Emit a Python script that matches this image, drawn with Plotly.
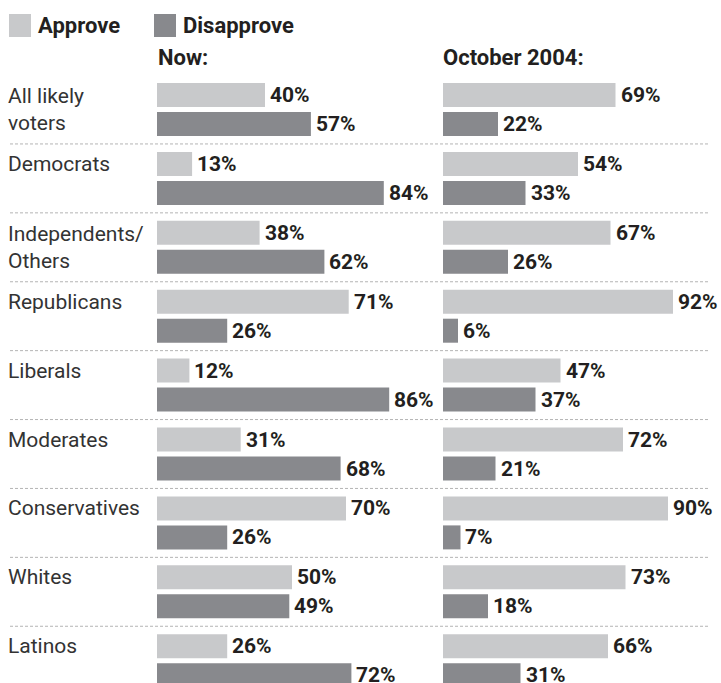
import plotly.graph_objects as go

# Poll results: approval by group, now vs. October 2004
groups = ["All likely<br>voters", "Democrats", "Independents/<br>Others", "Republicans",
          "Liberals", "Moderates", "Conservatives", "Whites", "Latinos"]
now_approve = [40, 13, 38, 71, 12, 31, 70, 50, 26]
now_disapprove = [57, 84, 62, 26, 86, 68, 26, 49, 72]
oct_approve = [69, 54, 67, 92, 47, 72, 90, 73, 66]
oct_disapprove = [22, 33, 26, 6, 37, 21, 7, 18, 31]

W, H = 721, 683
PITCH = 68.9          # px per group
FIRST_CENTER = 109.5  # px, centre of the first group
LIGHT = "#c8c9cb"
DARK = "#88898d"
INK = "#231f20"
FONT = "Roboto"

def px_x(p):
    return p / W

def px_y(p):
    return 1 - p / H

y_top = (0 - FIRST_CENTER) / PITCH
y_bot = (H - FIRST_CENTER) / PITCH
OFF = 14.5 / PITCH
BAR_W = 24 / PITCH

idx = list(range(len(groups)))
fig = go.Figure()

panels = [("x", now_approve, now_disapprove), ("x2", oct_approve, oct_disapprove)]
for xa, appr, dis in panels:
    fig.add_trace(go.Bar(x=appr, y=[i - OFF for i in idx], orientation="h", width=BAR_W,
                         marker=dict(color=LIGHT, line=dict(width=0)), xaxis=xa, yaxis="y",
                         name="Approve", showlegend=False))
    fig.add_trace(go.Bar(x=dis, y=[i + OFF for i in idx], orientation="h", width=BAR_W,
                         marker=dict(color=DARK, line=dict(width=0)), xaxis=xa, yaxis="y",
                         name="Disapprove", showlegend=False))

annotations = []
# value labels
for xa, appr, dis in panels:
    for i in idx:
        for v, dy in ((appr[i], -OFF), (dis[i], OFF)):
            annotations.append(dict(x=v, y=i + dy, xref=xa, yref="y", text=f"{v}%",
                                    xanchor="left", yanchor="middle", xshift=3, showarrow=False,
                                    font=dict(family=FONT, size=21, color=INK, weight=700)))

# group labels
for i, g in enumerate(groups):
    two_line = "<br>" in g
    annotations.append(dict(x=px_x(6), y=i if two_line else i - OFF, xref="paper", yref="y",
                            text=g, xanchor="left", yanchor="middle", align="left",
                            showarrow=False,
                            font=dict(family=FONT, size=21, color="#333333")))

# column headers
for xp, t in ((156, "Now:"), (441, "October 2004:")):
    annotations.append(dict(x=px_x(xp), y=px_y(57), xref="paper", yref="paper", text=t,
                            xanchor="left", yanchor="middle", showarrow=False,
                            font=dict(family=FONT, size=22, color=INK, weight=700)))

# legend
shapes = []
for x0, color, label in ((9, LIGHT, "Approve"), (154, DARK, "Disapprove")):
    shapes.append(dict(type="rect", xref="paper", yref="paper",
                       x0=px_x(x0), x1=px_x(x0 + 22), y0=px_y(37), y1=px_y(14),
                       fillcolor=color, line=dict(width=0)))
    annotations.append(dict(x=px_x(x0 + 27), y=px_y(25), xref="paper", yref="paper", text=label,
                            xanchor="left", yanchor="middle", showarrow=False,
                            font=dict(family=FONT, size=22, color=INK, weight=700)))

# dotted separators between groups
for i in idx[:-1]:
    shapes.append(dict(type="line", xref="paper", yref="y", x0=px_x(10), x1=px_x(710),
                       y0=i + 0.5, y1=i + 0.5,
                       line=dict(color="#b4b4b4", width=1, dash="3px,2px")))

fig.update_layout(
    width=W, height=H,
    margin=dict(l=0, r=0, t=0, b=0),
    paper_bgcolor="white", plot_bgcolor="white",
    barmode="overlay",
    xaxis=dict(domain=[px_x(157), px_x(427)], range=[0, 100], visible=False, fixedrange=True),
    xaxis2=dict(domain=[px_x(443), px_x(693)], range=[0, 100], visible=False, fixedrange=True),
    yaxis=dict(domain=[0, 1], range=[y_bot, y_top], visible=False, fixedrange=True),
    annotations=annotations,
    shapes=shapes,
    showlegend=False,
)

fig.write_html("out.html")
